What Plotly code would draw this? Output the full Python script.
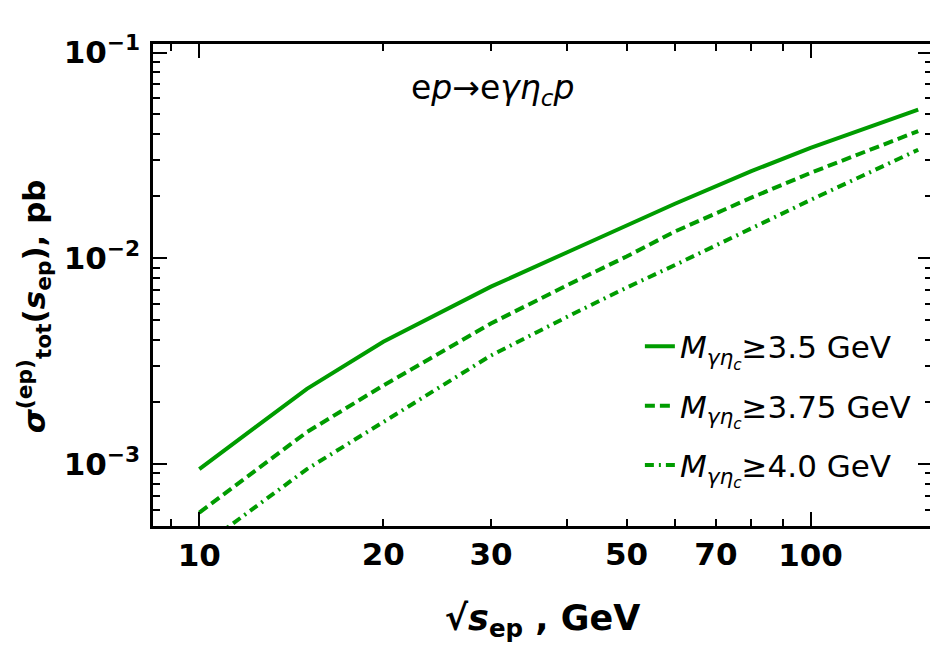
import math
import plotly.graph_objects as go

sqrt_s = [10, 15, 20, 30, 40, 50, 60, 80, 100, 150]
sigma_35 = [9.45e-4, 2.32e-3, 3.93e-3, 7.28e-3, 1.07e-2, 1.45e-2, 1.84e-2, 2.65e-2, 3.44e-2, 5.28e-2]
sigma_375 = [5.81e-4, 1.43e-3, 2.41e-3, 4.82e-3, 7.41e-3, 1.02e-2, 1.35e-2, 1.97e-2, 2.60e-2, 4.15e-2]
sigma_40 = [3.9e-4, 9.45e-4, 1.60e-3, 3.37e-3, 5.2e-3, 7.2e-3, 9.27e-3, 1.40e-2, 1.92e-2, 3.37e-2]

names = ["<i>M</i><sub><i>γη<sub>c</sub></i></sub>≥3.5 GeV",
         "<i>M</i><sub><i>γη<sub>c</sub></i></sub>≥3.75 GeV",
         "<i>M</i><sub><i>γη<sub>c</sub></i></sub>≥4.0 GeV"]
dashes = ["solid", "10px,5px", "9px,5px,2px,5px"]

x_major = [10, 100]
x_minor = [9, 20, 30, 40, 50, 60, 70, 80, 90]
x_minor_text = ["", "20", "30", "", "50", "", "70", "", ""]
y_major = [1e-3, 1e-2, 1e-1]
y_major_text = ["10<sup>−3</sup>", "10<sup>−2</sup>", "10<sup>−1</sup>"]
y_minor = [m * 10.0 ** e for e in (-4, -3, -2) for m in range(2, 10) if m * 10.0 ** e >= 5e-4]

x_range = [8.4, 158]
y_range = [5e-4, 0.11]

GREEN = "#009c00"
FONT = "DejaVu Sans"

fig = go.Figure()
for i, (ys, nm, ds) in enumerate(zip([sigma_35, sigma_375, sigma_40], names, dashes)):
    fig.add_trace(go.Scatter(x=sqrt_s, y=ys, mode="lines", name=nm, legendgroup=f"g{i}",
                             line=dict(color=GREEN, width=4, dash=ds)))
# invisible helper trace so the minor-tick overlay axes are drawn
fig.add_trace(go.Scatter(x=sqrt_s, y=sigma_35, mode="lines", xaxis="x2", yaxis="y2",
                         line=dict(color="rgba(0,0,0,0)", width=0), showlegend=False,
                         hoverinfo="skip"))

lx = [math.log10(v) for v in x_range]
ly = [math.log10(v) for v in y_range]

tickfont = dict(size=31, family=FONT, weight="bold", color="black")

fig.update_layout(
    width=938, height=654,
    margin=dict(l=145, r=14, t=36, b=136),
    paper_bgcolor="white", plot_bgcolor="white",
    font=dict(family=FONT, color="black"),
    showlegend=True,
    legend=dict(x=0.625, y=0.428, xanchor="left", yanchor="top",
                bgcolor="rgba(0,0,0,0)", font=dict(size=31, family=FONT),
                tracegroupgap=16),
    xaxis=dict(type="log", range=lx, showgrid=False, zeroline=False, automargin=False,
               showline=True, linecolor="black", linewidth=2.5, mirror="ticks",
               ticks="inside", ticklen=14, tickwidth=2, tickcolor="black",
               tickmode="array", tickvals=x_major, ticktext=[str(v) for v in x_major],
               tickfont=tickfont, ticklabelstandoff=0,
               title=dict(text="√<i>s</i><sub>ep</sub> , GeV",
                          font=dict(size=35, family=FONT, weight="bold"), standoff=34)),
    xaxis2=dict(type="log", range=lx, overlaying="x", side="bottom", anchor="y2",
                showgrid=False, zeroline=False, showline=False, automargin=False,
                mirror="ticks", ticks="inside", ticklen=7, tickwidth=2, tickcolor="black",
                tickmode="array", tickvals=x_minor, ticktext=x_minor_text,
                tickfont=tickfont, ticklabelstandoff=7),
    yaxis=dict(type="log", range=ly, showgrid=False, zeroline=False, automargin=False,
               showline=True, linecolor="black", linewidth=2.5, mirror="ticks",
               ticks="inside", ticklen=14, tickwidth=2, tickcolor="black",
               tickmode="array", tickvals=y_major, ticktext=y_major_text,
               tickfont=tickfont, ticklabelstandoff=4),
    yaxis2=dict(type="log", range=ly, overlaying="y", side="left", anchor="x2",
                showgrid=False, zeroline=False, showline=False, automargin=False,
                mirror="ticks", ticks="inside", ticklen=7, tickwidth=2, tickcolor="black",
                tickmode="array", tickvals=y_minor, showticklabels=False),
)

fig.add_annotation(text="<i>σ</i><sup>(ep)</sup><sub>tot</sub>(<i>s</i><sub>ep</sub>), pb",
                   xref="paper", yref="paper", x=-0.152, y=0.455, textangle=-90,
                   xanchor="center", yanchor="middle", showarrow=False,
                   font=dict(size=31, family=FONT, weight="bold", color="black"))

fig.add_annotation(text="e<i>p</i>→e<i>γη<sub>c</sub>p</i>", xref="paper", yref="paper",
                   x=0.436, y=0.905, xanchor="center", yanchor="middle", showarrow=False,
                   font=dict(size=33, family=FONT, color="black"))

fig.write_html("out.html")
